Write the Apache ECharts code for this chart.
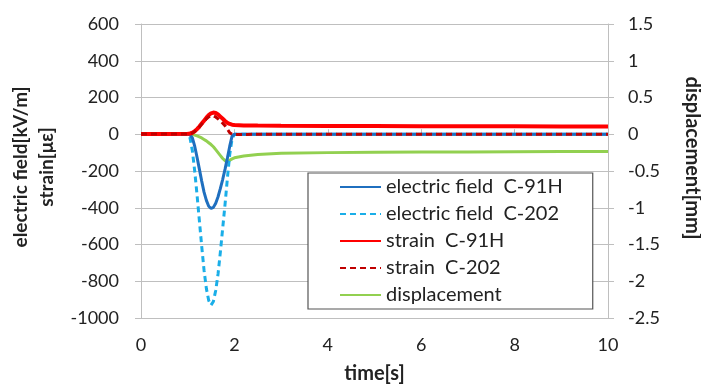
<!DOCTYPE html>
<html>
<head>
<meta charset="utf-8">
<script src="https://cdn.jsdelivr.net/npm/echarts@6/dist/echarts.min.js"></script>
<style>html,body{margin:0;padding:0;background:#fff}#c{width:701px;height:388px}</style>
</head>
<body>
<div id="c"></div>
<script>
// time [s]
var times = [0, 0.5, 1.0, 1.05, 1.1, 1.15, 1.2, 1.25, 1.3, 1.35, 1.4, 1.45, 1.5, 1.55, 1.6, 1.65, 1.7, 1.75, 1.8, 1.85, 1.9, 1.95, 2.0, 2.2, 2.5, 3, 4, 5, 6, 7, 8, 9, 10];
// electric field C-91H [kV/m]
var efC91H = [0, 0, 0, -3, -20, -65, -125, -190, -255, -315, -360, -392, -404, -398, -375, -340, -295, -245, -190, -130, -65, -10, 0, 0, 0, 0, 0, 0, 0, 0, 0, 0, 0];
// electric field C-202 [kV/m]
var efC202 = [0, 0, 0, -20, -90, -200, -330, -470, -610, -740, -840, -905, -930, -910, -850, -760, -640, -510, -380, -240, -110, -25, 0, 0, 0, 0, 0, 0, 0, 0, 0, 0, 0];
// strain C-91H [με]
var strC91H = [2, 2, 3, 4, 8, 16, 28, 42, 58, 74, 90, 104, 114, 118, 116, 108, 96, 84, 72, 62, 56, 52, 50, 48, 47, 46, 45, 45, 44, 44, 43, 42, 42];
// strain C-202 [με]
var strC202 = [1, 1, 2, 3, 7, 15, 27, 40, 55, 70, 84, 95, 100, 100, 94, 84, 72, 60, 46, 28, 8, 0, -2, -1, 0, 0, 0, 0, 0, 0, 0, 0, 0];
// displacement [mm]
var disp = [0, 0, 0, -0.002, -0.005, -0.012, -0.022, -0.035, -0.05, -0.07, -0.09, -0.115, -0.14, -0.17, -0.21, -0.25, -0.29, -0.33, -0.36, -0.37, -0.355, -0.335, -0.32, -0.295, -0.275, -0.26, -0.25, -0.245, -0.24, -0.24, -0.237, -0.235, -0.235];

var leftTicks = [-1000, 600, 200];
var rightTicks = [-2.5, 1.5, 0.5];
var xTicks = [0, 10, 2];

function pairs(v) { return times.map(function (t, i) { return [t, v[i]]; }); }
function plain(v) { return String(v); }

var FONT = 'Lato';
var chart = echarts.init(document.getElementById('c'), null, { renderer: 'canvas' });
chart.setOption({
  animation: false,
  backgroundColor: '#fff',
  textStyle: { fontFamily: FONT },
  grid: { left: 141, right: 93, top: 24, bottom: 70, containLabel: false, outerBoundsMode: 'none' },
  legend: {
    left: 308, top: 173, orient: 'vertical',
    backgroundColor: '#fff', borderColor: '#555', borderWidth: 1.2, borderRadius: 0,
    padding: [4, 30, 4, 31],
    itemWidth: 41, itemHeight: 14, itemGap: 7,
    itemStyle: { opacity: 0 },
    textStyle: { fontFamily: FONT, fontSize: 20, color: '#222' },
    data: ['electric field  C-91H', 'electric field  C-202', 'strain  C-91H', 'strain  C-202', 'displacement']
  },
  xAxis: {
    type: 'value', min: xTicks[0], max: xTicks[1], interval: xTicks[2],
    name: 'time[s]', nameLocation: 'middle', nameGap: 46,
    nameTextStyle: { fontFamily: FONT, fontSize: 20, fontWeight: 'bold', color: '#222' },
    axisLine: { lineStyle: { color: '#bfbfbf', width: 1 } },
    axisTick: { show: true, inside: true, length: 5, lineStyle: { color: '#bfbfbf' } },
    axisLabel: { fontFamily: FONT, fontSize: 18, color: '#222', margin: 18, formatter: plain },
    splitLine: { show: false }
  },
  yAxis: [{
    type: 'value', min: leftTicks[0], max: leftTicks[1], interval: leftTicks[2],
    name: 'electric field[kV/m]\nstrain[με]', nameLocation: 'middle', nameGap: 80, nameRotate: 90,
    nameTextStyle: { fontFamily: FONT, fontSize: 19, fontWeight: 'bold', color: '#222', lineHeight: 26, padding: [0, 0, 0, 8] },
    axisLine: { show: true, lineStyle: { color: '#bfbfbf', width: 1 } },
    axisTick: { show: true, length: 6, lineStyle: { color: '#bfbfbf' } },
    axisLabel: { fontFamily: FONT, fontSize: 18, color: '#222', margin: 22, formatter: plain },
    splitLine: { show: true, lineStyle: { color: '#bfbfbf', width: 1 } }
  }, {
    type: 'value', min: rightTicks[0], max: rightTicks[1], interval: rightTicks[2], position: 'right',
    name: 'displacement[mm]', nameLocation: 'middle', nameGap: 74, nameRotate: -90,
    nameTextStyle: { fontFamily: FONT, fontSize: 20, fontWeight: 'bold', color: '#222', padding: [0, 26, 0, 0] },
    axisLine: { show: true, lineStyle: { color: '#bfbfbf', width: 1 } },
    axisTick: { show: true, length: 6, lineStyle: { color: '#bfbfbf' } },
    axisLabel: { fontFamily: FONT, fontSize: 18, color: '#222', margin: 20, formatter: plain },
    splitLine: { show: false }
  }],
  series: [
    { name: 'displacement', type: 'line', yAxisIndex: 1, data: pairs(disp), showSymbol: false, symbol: 'none', z: 2,
      color: '#92D050', lineStyle: { color: '#92D050', width: 3 } },
    { name: 'electric field  C-202', type: 'line', data: pairs(efC202), showSymbol: false, symbol: 'none', z: 3,
      color: '#1AAEE8', lineStyle: { color: '#1AAEE8', width: 3, type: [6, 4] } },
    { name: 'electric field  C-91H', type: 'line', data: pairs(efC91H), showSymbol: false, symbol: 'none', z: 4,
      color: '#1F6FBF', lineStyle: { color: '#1F6FBF', width: 3 } },
    { name: 'strain  C-91H', type: 'line', data: pairs(strC91H), showSymbol: false, symbol: 'none', z: 5,
      color: '#FF0000', lineStyle: { color: '#FF0000', width: 4 } },
    { name: 'strain  C-202', type: 'line', data: pairs(strC202), showSymbol: false, symbol: 'none', z: 6,
      color: '#C00000', lineStyle: { color: '#C00000', width: 3, type: [6, 4] } }
  ]
});
</script>
</body>
</html>
